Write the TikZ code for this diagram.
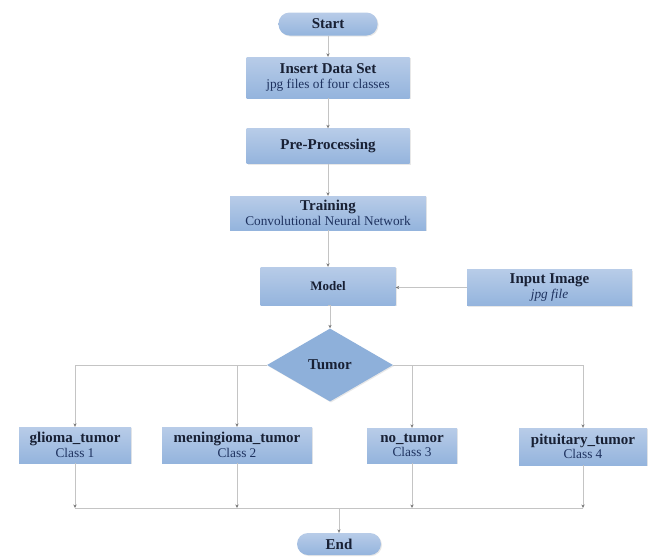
\documentclass[tikz,border=0pt]{standalone}
\usepackage{fontspec}
\setmainfont{Liberation Serif}
\usetikzlibrary{shapes.geometric,arrows.meta,shadows}
\definecolor{boxtop}{RGB}{184,204,232}
\definecolor{boxbot}{RGB}{148,180,221}
\definecolor{dia}{RGB}{142,176,218}
\definecolor{linec}{RGB}{196,196,196}
\definecolor{tipc}{RGB}{120,120,120}
\definecolor{titc}{RGB}{24,32,52}
\definecolor{subc}{RGB}{30,50,95}
\tikzset{
  base/.style={inner sep=0pt, align=center, top color=boxtop, bottom color=boxbot,
    font=\fontsize{13}{14.5}\selectfont,
    drop shadow={opacity=0.18, shadow xshift=1pt, shadow yshift=-1pt}},
  procbox/.style={base, rectangle},
  termbox/.style={base, rectangle, rounded corners=11pt},
  decbox/.style={inner sep=0pt, diamond, fill=dia, align=center,
    drop shadow={opacity=0.18, shadow xshift=1pt, shadow yshift=-1pt}},
  conn/.style={draw=linec, line width=0.9pt, -{Stealth[length=3.5pt,width=3.2pt,color=tipc]}},
  plain/.style={draw=linec, line width=0.9pt},
}
\newcommand{\tl}[1]{{\color{titc}\fontsize{15}{14.5}\selectfont\bfseries #1}}
\newcommand{\sbt}[1]{{\color{subc}\fontsize{13.3}{14.5}\selectfont #1}}
\begin{document}
\begin{tikzpicture}[x=1pt,y=-1pt]
\fill[white] (0,0) rectangle (653,557);
\useasboundingbox (0,0) rectangle (653,557);

\node[termbox, minimum width=99pt, minimum height=23pt] (start) at (328,24) {\tl{Start}};
\node[procbox, minimum width=163pt, minimum height=41pt] (insert) at (328,77.5)
  {\tl{Insert Data Set}\\\sbt{jpg files of four classes}};
\node[procbox, minimum width=163pt, minimum height=35pt] (pre) at (328,146) {\tl{Pre-Processing}};
\node[procbox, minimum width=196pt, minimum height=34pt] (train) at (328,213)
  {\tl{Training}\\\sbt{Convolutional Neural Network}};
\node[procbox, minimum width=135pt, minimum height=38pt] (model) at (328,286)
  {{\color{titc}\fontsize{13}{14}\selectfont\bfseries Model}};
\node[procbox, minimum width=165pt, minimum height=36pt] (input) at (549.5,287.5)
  {\tl{Input Image}\\\sbt{\itshape jpg file}};
\node[decbox, minimum width=126pt, minimum height=73pt] (tumor) at (330,365) {\tl{Tumor}};

\node[procbox, minimum width=112pt, minimum height=36pt] (c1) at (75,445)
  {\tl{glioma\_tumor}\\\sbt{Class 1}};
\node[procbox, minimum width=150pt, minimum height=36pt] (c2) at (237,445)
  {\tl{meningioma\_tumor}\\\sbt{Class 2}};
\node[procbox, minimum width=90pt, minimum height=35pt] (c3) at (412,445.5)
  {\tl{no\_tumor}\\\sbt{Class 3}};
\node[procbox, minimum width=128pt, minimum height=37pt] (c4) at (583,446.5)
  {\tl{pituitary\_tumor}\\\sbt{Class 4}};
\node[termbox, minimum width=84pt, minimum height=22pt] (end) at (339,544) {\tl{End}};

\coordinate (bl) at (75,508);

\draw[conn] (start) -- (insert);
\draw[conn] (insert) -- (pre);
\draw[conn] (pre) -- (train);
\draw[conn] (train) -- (model);
\draw[conn] (input.west) -- (input.west -| model.east);
\draw[conn] (model.south) -- (model.south -| tumor.north) -- (tumor.north);

\draw[conn] (tumor.west) -| (c1.north);
\draw[conn] (tumor.west -| c2.north) -- (c2.north);
\draw[conn] (tumor.east) -| (c4.north);
\draw[conn] (tumor.east -| c3.north) -- (c3.north);

\draw[plain] (c1.south |- bl) -- (c4.south |- bl);
\draw[conn] (c1.south) -- (c1.south |- bl);
\draw[conn] (c2.south) -- (c2.south |- bl);
\draw[conn] (c3.south) -- (c3.south |- bl);
\draw[conn] (c4.south) -- (c4.south |- bl);
\draw[conn] (end.north |- bl) -- (end.north);
\end{tikzpicture}
\end{document}
